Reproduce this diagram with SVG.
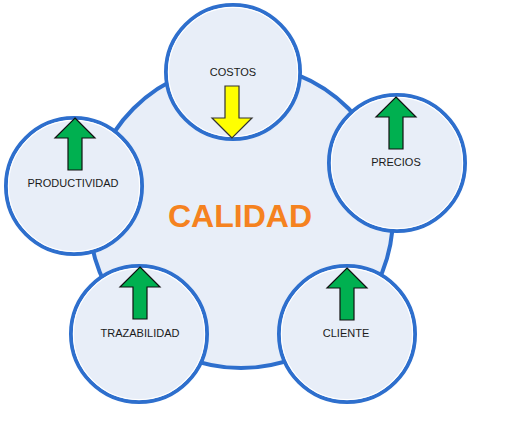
<svg xmlns="http://www.w3.org/2000/svg" xmlns:xlink="http://www.w3.org/1999/xlink" width="507" height="430" viewBox="0 0 507 430">
<style>
.big{fill:#e8eef8;stroke:#2e6fcd;stroke-width:4}
.ring{fill:#e8eef8;stroke:#2e6fcd;stroke-width:4}
.inner{fill:none;stroke:#ffffff;stroke-width:1.2}
.lbl{font-family:"Liberation Sans",Arial,sans-serif;font-size:11px;fill:#1a1a1a;text-anchor:middle}
.title{font-family:"Liberation Sans",Arial,sans-serif;font-size:32px;font-weight:bold;fill:#f58220;text-anchor:middle}
.up{fill:#00b050;stroke:#111111;stroke-width:1.2;stroke-linejoin:miter}
.down{fill:#ffff00;stroke:#333333;stroke-width:1.2}
</style>
<defs>
<path id="arrow" d="M0,0 L20,20 L7,20 L7,52 L-7,52 L-7,20 L-20,20 Z"/>
</defs>
<rect width="507" height="430" fill="#ffffff"/>
<g id="calidad">
<circle class="big" cx="241" cy="216" r="152"/>
<text class="title" x="240" y="227">CALIDAD</text>
</g>
<g id="costos">
<circle class="ring" cx="233" cy="72" r="67"/>
<circle class="inner" cx="233" cy="72" r="64.6"/>
<text class="lbl" x="233" y="76">COSTOS</text>
<use xlink:href="#arrow" class="down" transform="translate(232,138) rotate(180)"/>
</g>
<g id="precios">
<circle class="ring" cx="397" cy="163" r="68"/>
<circle class="inner" cx="397" cy="163" r="65.6"/>
<text class="lbl" x="396" y="166">PRECIOS</text>
<use xlink:href="#arrow" class="up" transform="translate(396,97)"/>
</g>
<g id="productividad">
<circle class="ring" cx="74" cy="186" r="68"/>
<circle class="inner" cx="74" cy="186" r="65.6"/>
<text class="lbl" x="73" y="187">PRODUCTIVIDAD</text>
<use xlink:href="#arrow" class="up" transform="translate(75,118)"/>
</g>
<g id="trazabilidad">
<circle class="ring" cx="139" cy="334" r="68"/>
<circle class="inner" cx="139" cy="334" r="65.6"/>
<text class="lbl" x="140" y="337">TRAZABILIDAD</text>
<use xlink:href="#arrow" class="up" transform="translate(140,267)"/>
</g>
<g id="cliente">
<circle class="ring" cx="347" cy="334" r="68"/>
<circle class="inner" cx="347" cy="334" r="65.6"/>
<text class="lbl" x="346" y="337">CLIENTE</text>
<use xlink:href="#arrow" class="up" transform="translate(347,268)"/>
</g>
<g id="connectors"/>
</svg>
